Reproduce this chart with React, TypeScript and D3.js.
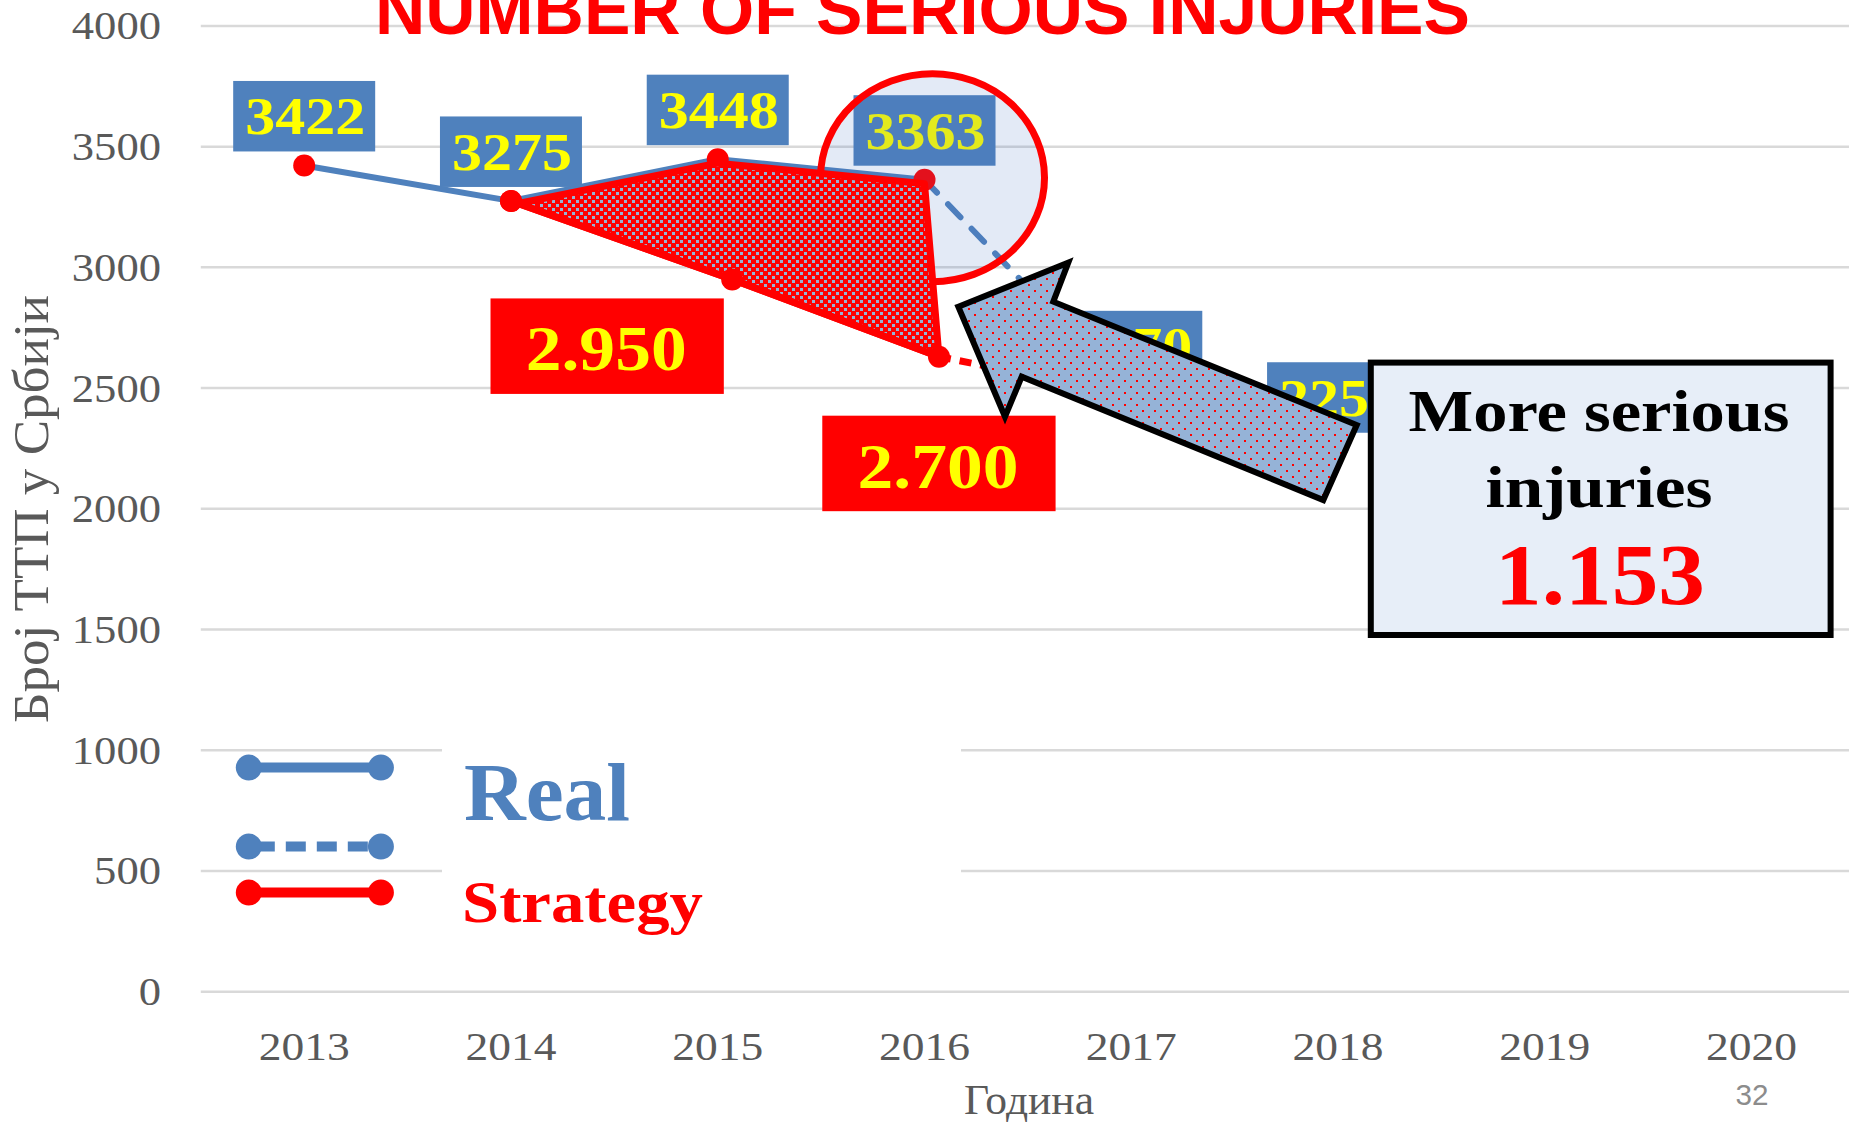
import React, { useEffect } from "react";
import * as d3 from "d3";

const W = 1849;
const H = 1124;

// ---------- data ----------
const categories = [2013, 2014, 2015, 2016, 2017, 2018, 2019, 2020];
const yTickValues = [0, 500, 1000, 1500, 2000, 2500, 3000, 3500, 4000];

const realSolidYears = [2013, 2014, 2015, 2016];
const realSolidValues = [3422, 3275, 3448, 3363];
const realDashedYears = [2016, 2017, 2018];
const realDashedValues = [3363, 2470, 2257];
const realLabelYears = [2013, 2014, 2015, 2016, 2017, 2018];
const realLabelValues = [3422, 3275, 3448, 3363, 2470, 2257];

const strategyYears = [2014, 2015.07, 2016.07];
const strategyValues = [3275, 2950, 2630];
const strategyDashedYears = [2016.07, 2017.07];
const strategyDashedValues = [2630, 2460];
const strategyLabelTexts = ["2.950", "2.700"];

const titleText = "NUMBER OF SERIOUS INJURIES";
const yAxisTitle = "Број ТТП у Србији";
const xAxisTitle = "Година";
const calloutLines = ["More serious", "injuries"];
const calloutValue = "1.153";
const legendLabels = ["Real", "Strategy"];
const pageNumber = "32";

// ---------- style ----------
const BLUE = "#4f81bd";
const RED = "#ff0000";
const YELLOW = "#ffff00";
const GRID = "#d9d9d9";
const AXIS_TEXT = "#595959";
const SERIF = "'Liberation Serif', 'Times New Roman', serif";
const SANS = "'Liberation Sans', Arial, sans-serif";

export default function App() {
  useEffect(() => {
    document.body.style.margin = "0";
    document.body.style.overflow = "hidden";
  }, []);

  const x = d3.scaleLinear().domain([2012.5, 2020.5]).range([200.8, 1855]);
  const y = d3.scaleLinear().domain([0, 4000]).range([991.7, 25.9]);

  const line = d3
    .line<[number, number]>()
    .x((d) => x(d[0]))
    .y((d) => y(d[1]));

  const solidPts: [number, number][] = realSolidYears.map((yr, i) => [yr, realSolidValues[i]]);
  const dashedPts: [number, number][] = realDashedYears.map((yr, i) => [yr, realDashedValues[i]]);
  const stratPts: [number, number][] = strategyYears.map((yr, i) => [yr, strategyValues[i]]);
  const stratDashPts: [number, number][] = strategyDashedYears.map((yr, i) => [yr, strategyDashedValues[i]]);

  // polygon between real (top) and strategy (bottom), 2014..2016
  const polyTop = solidPts.slice(1).map((d) => [x(d[0]), y(d[1]) + 4]);
  const polyBottom = stratPts
    .slice()
    .reverse()
    .map((d) => [x(d[0]), y(d[1])]);
  const polyPath = "M" + [...polyTop, ...polyBottom].map((p) => p.join(",")).join("L") + "Z";

  // strategy label boxes (annotation offsets from their points)
  const stratLabelOffsets = [
    { dx: -125, dy: 19 },
    { dx: 0, dy: 59 },
  ];

  // ellipse around 2016 real point
  const ex = x(2016) + 8;
  const ey = y(3363) - 2;

  // arrow shape (annotation)
  const arrowPts = [
    [958.3, 306.7],
    [1068.3, 262.7],
    [1053.3, 301.7],
    [1356.7, 425],
    [1323.3, 500],
    [1021.7, 376.7],
    [1005, 416.7],
  ];
  const arrowPath = "M" + arrowPts.map((p) => p.join(",")).join("L") + "Z";

  const legendX1 = 248.8;
  const legendX2 = 380.9;
  const legendYs = [767.6, 846.6, 892.6];

  return (
    <svg
      width={W}
      height={H}
      viewBox={`0 0 ${W} ${H}`}
      style={{ position: "absolute", left: 0, top: 0, background: "#fff" }}
    >
      <defs>
        <pattern id="checker" width="8" height="8" patternUnits="userSpaceOnUse">
          <rect width="8" height="8" fill={RED} />
          <rect x="0" y="0" width="3" height="3" fill="#95b3d7" />
          <rect x="4" y="4" width="3" height="3" fill="#95b3d7" />
        </pattern>
        <pattern id="dots" width="12" height="12" patternUnits="userSpaceOnUse">
          <rect width="12" height="12" fill="#95b3d7" />
          <rect x="2" y="2" width="2" height="2" fill={RED} />
          <rect x="8" y="8" width="2" height="2" fill={RED} />
        </pattern>
      </defs>
      <rect width={W} height={H} fill="#fff" />

      {/* gridlines */}
      {yTickValues.map((v) => (
        <line key={"g" + v} x1={200.8} x2={W} y1={y(v)} y2={y(v)} stroke={GRID} strokeWidth={2.5} />
      ))}

      {/* y tick labels */}
      {yTickValues.map((v) => (
        <text
          key={"yt" + v}
          x={161}
          y={y(v) + 13.5}
          textAnchor="end"
          fontFamily={SERIF}
          fontSize={40}
          fill={AXIS_TEXT}
          textLength={String(v).length * 22.3}
          lengthAdjust="spacingAndGlyphs"
        >
          {v}
        </text>
      ))}

      {/* x tick labels */}
      {categories.map((c) => (
        <text
          key={"xt" + c}
          x={x(c)}
          y={1060}
          textAnchor="middle"
          fontFamily={SERIF}
          fontSize={41}
          fill={AXIS_TEXT}
          textLength={91}
          lengthAdjust="spacingAndGlyphs"
        >
          {c}
        </text>
      ))}

      {/* axis titles */}
      <text
        transform={`translate(48,509) rotate(-90)`}
        textAnchor="middle"
        fontFamily={SERIF}
        fontSize={50}
        fill={AXIS_TEXT}
        textLength={428}
        lengthAdjust="spacingAndGlyphs"
      >
        {yAxisTitle}
      </text>
      <text
        x={1029}
        y={1114}
        textAnchor="middle"
        fontFamily={SERIF}
        fontSize={42}
        fill={AXIS_TEXT}
        textLength={130}
        lengthAdjust="spacingAndGlyphs"
      >
        {xAxisTitle}
      </text>

      {/* real lines */}
      <path d={line(solidPts) || ""} fill="none" stroke={BLUE} strokeWidth={6} strokeLinejoin="round" />
      <path
        d={line(dashedPts) || ""}
        fill="none"
        stroke={BLUE}
        strokeWidth={6}
        strokeDasharray="18 16"
        strokeLinecap="round"
      />
      {dashedPts.slice(1).map((d, i) => (
        <circle key={"dm" + i} cx={x(d[0])} cy={y(d[1])} r={11} fill={BLUE} />
      ))}
      {solidPts.map((d, i) => (
        <circle key={"sm" + i} cx={x(d[0])} cy={y(d[1])} r={11} fill={RED} />
      ))}

      {/* real labels */}
      {realLabelYears.map((yr, i) => {
        const px = x(yr);
        const py = y(realLabelValues[i]);
        const bottom = py - 14;
        return (
          <g key={"rl" + i}>
            <rect x={px - 71} y={bottom - 70.5} width={142} height={70.5} fill={BLUE} />
            <text
              x={px + 1}
              y={bottom - 17}
              textAnchor="middle"
              fontFamily={SERIF}
              fontWeight="bold"
              fontSize={52}
              fill={YELLOW}
              textLength={120}
              lengthAdjust="spacingAndGlyphs"
            >
              {realLabelValues[i]}
            </text>
          </g>
        );
      })}

      {/* ellipse highlight */}
      <ellipse cx={ex} cy={ey} rx={112} ry={104} fill="#4472c4" fillOpacity={0.15} stroke={RED} strokeWidth={7} />

      {/* strategy polygon */}
      <path d={polyPath} fill="url(#checker)" stroke={RED} strokeWidth={7} strokeLinejoin="round" />
      <path d={line(stratPts) || ""} fill="none" stroke={RED} strokeWidth={7} />
      <path
        d={line(stratDashPts) || ""}
        fill="none"
        stroke={RED}
        strokeWidth={7}
        strokeDasharray="12 9"
      />
      {stratPts.map((d, i) => (
        <circle key={"stm" + i} cx={x(d[0])} cy={y(d[1])} r={11} fill={RED} />
      ))}

      {/* strategy labels */}
      {strategyLabelTexts.map((t, i) => {
        const p = stratPts[i + 1];
        const cx = x(p[0]) + stratLabelOffsets[i].dx;
        const top = y(p[1]) + stratLabelOffsets[i].dy;
        return (
          <g key={"sl" + i}>
            <rect x={cx - 116.7} y={top} width={233.3} height={95.5} fill={RED} />
            <text
              x={cx - 1}
              y={top + 72}
              textAnchor="middle"
              fontFamily={SERIF}
              fontWeight="bold"
              fontSize={63}
              fill={YELLOW}
              textLength={161}
              lengthAdjust="spacingAndGlyphs"
            >
              {t}
            </text>
          </g>
        );
      })}

      {/* arrow */}
      <path d={arrowPath} fill="url(#dots)" stroke="#000" strokeWidth={6} strokeLinejoin="miter" />

      {/* callout box */}
      <rect x={1370.8} y={362.6} width={459.8} height={272.4} fill="#e7eef8" stroke="#000" strokeWidth={6} />
      <text
        x={1599}
        y={431}
        textAnchor="middle"
        fontFamily={SERIF}
        fontWeight="bold"
        fontSize={60}
        fill="#000"
        textLength={381}
        lengthAdjust="spacingAndGlyphs"
      >
        {calloutLines[0]}
      </text>
      <text
        x={1599}
        y={506.7}
        textAnchor="middle"
        fontFamily={SERIF}
        fontWeight="bold"
        fontSize={60}
        fill="#000"
        textLength={227}
        lengthAdjust="spacingAndGlyphs"
      >
        {calloutLines[1]}
      </text>
      <text
        x={1600}
        y={604}
        textAnchor="middle"
        fontFamily={SERIF}
        fontWeight="bold"
        fontSize={86}
        fill={RED}
        textLength={210}
        lengthAdjust="spacingAndGlyphs"
      >
        {calloutValue}
      </text>

      {/* legend */}
      <rect x={442} y={660} width={519} height={300} fill="#fff" />
      <line x1={legendX1} x2={legendX2} y1={legendYs[0]} y2={legendYs[0]} stroke={BLUE} strokeWidth={10} />
      <circle cx={legendX1} cy={legendYs[0]} r={13} fill={BLUE} />
      <circle cx={legendX2} cy={legendYs[0]} r={13} fill={BLUE} />
      <line
        x1={legendX1}
        x2={legendX2}
        y1={legendYs[1]}
        y2={legendYs[1]}
        stroke={BLUE}
        strokeWidth={10}
        strokeDasharray="20 11"
        strokeDashoffset={-6}
      />
      <circle cx={legendX1} cy={legendYs[1]} r={13} fill={BLUE} />
      <circle cx={legendX2} cy={legendYs[1]} r={13} fill={BLUE} />
      <line x1={legendX1} x2={legendX2} y1={legendYs[2]} y2={legendYs[2]} stroke={RED} strokeWidth={10} />
      <circle cx={legendX1} cy={legendYs[2]} r={13} fill={RED} />
      <circle cx={legendX2} cy={legendYs[2]} r={13} fill={RED} />
      <text
        x={464}
        y={820}
        fontFamily={SERIF}
        fontWeight="bold"
        fontSize={83}
        fill={BLUE}
        textLength={166}
        lengthAdjust="spacingAndGlyphs"
      >
        {legendLabels[0]}
      </text>
      <text
        x={462}
        y={921.7}
        fontFamily={SERIF}
        fontWeight="bold"
        fontSize={60}
        fill={RED}
        textLength={241}
        lengthAdjust="spacingAndGlyphs"
      >
        {legendLabels[1]}
      </text>

      {/* title (cut at the top) */}
      <text
        x={922.5}
        y={34}
        textAnchor="middle"
        fontFamily={SANS}
        fontWeight="bold"
        fontSize={70}
        fill={RED}
        textLength={1095}
        lengthAdjust="spacingAndGlyphs"
      >
        {titleText}
      </text>

      {/* page number */}
      <text
        x={1752}
        y={1105}
        textAnchor="middle"
        fontFamily={SANS}
        fontSize={29}
        fill="#8c8c8c"
        textLength={33}
        lengthAdjust="spacingAndGlyphs"
      >
        {pageNumber}
      </text>
    </svg>
  );
}
